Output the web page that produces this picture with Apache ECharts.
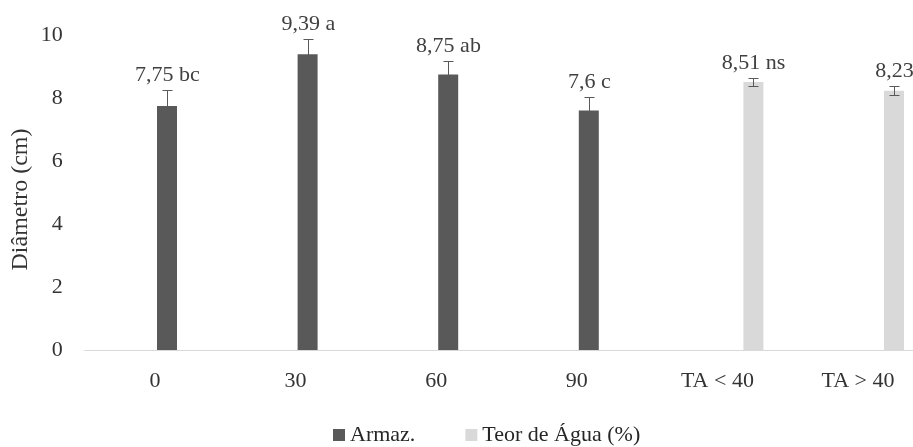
<!DOCTYPE html>
<html>
<head>
<meta charset="utf-8">
<script src="https://cdn.jsdelivr.net/npm/echarts@6/dist/echarts.min.js"></script>
<style>
  html, body { margin: 0; padding: 0; background: #ffffff; }
  #chart { width: 913px; height: 447px; }
</style>
</head>
<body>
<div id="chart"></div>
<script>
// Storage time (days) and water-content classes
const categories = ['0', '30', '60', '90', 'TA < 40', 'TA > 40'];

// Mean diameter (cm) per group
const armazValues = [7.75, 9.39, 8.75, 7.6, null, null];
const armazErrors = [0.5, 0.47, 0.43, 0.44, null, null];
const armazLetters = ['bc', 'a', 'ab', 'c', '', ''];

const teorValues = [null, null, null, null, 8.51, 8.23];
const teorErrors = [null, null, null, null, 0.14, 0.14];
const teorLetters = ['', '', '', '', 'ns', ''];

// Value axis
const yMin = 0;
const yMax = 10;
const yInterval = 2;

const seriesNames = ['Armaz.', 'Teor de Água (%)'];

const DARK = '#595959';
const LIGHT = '#d9d9d9';
const FONT = '"Liberation Serif", "Times New Roman", serif';
const BAR_W = 20;
const BAR_GAP = 4;
const SLOT = BAR_W + BAR_GAP;
// Two reserved empty slots precede the drawn series in each category
const SLOT_COUNT = 4;
const slotOffset = (i) => (i - (SLOT_COUNT - 1) / 2) * SLOT;

function fmt(v) {
  return String(v).replace('.', ',');
}

function buildMarks(values, errors, letters) {
  const out = [];
  values.forEach((v, i) => {
    if (v == null) return;
    const txt = letters[i] ? fmt(v) + ' ' + letters[i] : fmt(v);
    out.push([i, v, errors[i], txt]);
  });
  return out;
}

function errorRenderer(slotIndex) {
  return function (params, api) {
    const cat = api.value(0);
    const v = api.value(1);
    const e = api.value(2);
    const txt = api.value(3);
    const base = api.coord([cat, v]);
    const x = Math.round(base[0] + slotOffset(slotIndex)) + 0.5;
    const yTop = Math.round(api.coord([cat, v + e])[1]) + 0.5;
    const yBot = Math.round(api.coord([cat, v - e])[1]) + 0.5;
    const cap = 5;
    const lineStyle = { stroke: '#595959', lineWidth: 1 };
    return {
      type: 'group',
      children: [
        { type: 'line', shape: { x1: x, y1: yTop, x2: x, y2: yBot }, style: lineStyle },
        { type: 'line', shape: { x1: x - cap, y1: yTop, x2: x + cap, y2: yTop }, style: lineStyle },
        { type: 'line', shape: { x1: x - cap, y1: yBot, x2: x + cap, y2: yBot }, style: lineStyle },
        {
          type: 'text',
          style: {
            text: txt,
            x: x,
            y: yTop - 15,
            align: 'center',
            verticalAlign: 'middle',
            fill: '#404040',
            font: '22px ' + FONT
          }
        }
      ]
    };
  };
}

const chart = echarts.init(document.getElementById('chart'), null, { renderer: 'canvas' });

const barBase = {
  type: 'bar',
  barWidth: BAR_W,
  barGap: (BAR_GAP / BAR_W * 100) + '%',
  barCategoryGap: '0%'
};

chart.setOption({
  animation: false,
  backgroundColor: '#ffffff',
  grid: {
    left: 84.7,
    top: 35,
    width: 843.6,
    height: 315,
    outerBoundsMode: 'none',
    containLabel: false
  },
  legend: {
    data: seriesNames,
    left: 328,
    top: 419,
    itemWidth: 12,
    itemHeight: 12,
    itemGap: 50,
    icon: 'rect',
    textStyle: { fontFamily: FONT, fontSize: 22, color: '#262626' }
  },
  xAxis: {
    type: 'category',
    data: categories,
    axisLine: { lineStyle: { color: LIGHT, width: 1 } },
    axisTick: { show: false },
    axisLabel: { margin: 20, fontFamily: FONT, fontSize: 22, color: '#333333' },
    splitLine: { show: false }
  },
  yAxis: {
    type: 'value',
    min: yMin,
    max: yMax,
    interval: yInterval,
    name: 'Diâmetro (cm)',
    nameLocation: 'middle',
    nameRotate: 90,
    nameGap: 52,
    nameMoveOverlap: false,
    nameTextStyle: { fontFamily: FONT, fontSize: 24, color: '#333333', padding: [0, 14, 0, 0] },
    axisLine: { show: false },
    axisTick: { show: false },
    splitLine: { show: false },
    axisLabel: { margin: 22, fontFamily: FONT, fontSize: 22, color: '#333333' }
  },
  series: [
    Object.assign({}, barBase, { name: 'reserved-a', data: [], silent: true }),
    Object.assign({}, barBase, { name: 'reserved-b', data: [], silent: true }),
    Object.assign({}, barBase, {
      name: seriesNames[0],
      data: armazValues,
      itemStyle: { color: DARK }
    }),
    Object.assign({}, barBase, {
      name: seriesNames[1],
      data: teorValues,
      itemStyle: { color: LIGHT }
    }),
    {
      type: 'custom',
      z: 5,
      silent: true,
      renderItem: errorRenderer(2),
      data: buildMarks(armazValues, armazErrors, armazLetters)
    },
    {
      type: 'custom',
      z: 5,
      silent: true,
      renderItem: errorRenderer(3),
      data: buildMarks(teorValues, teorErrors, teorLetters)
    }
  ]
});
</script>
</body>
</html>
